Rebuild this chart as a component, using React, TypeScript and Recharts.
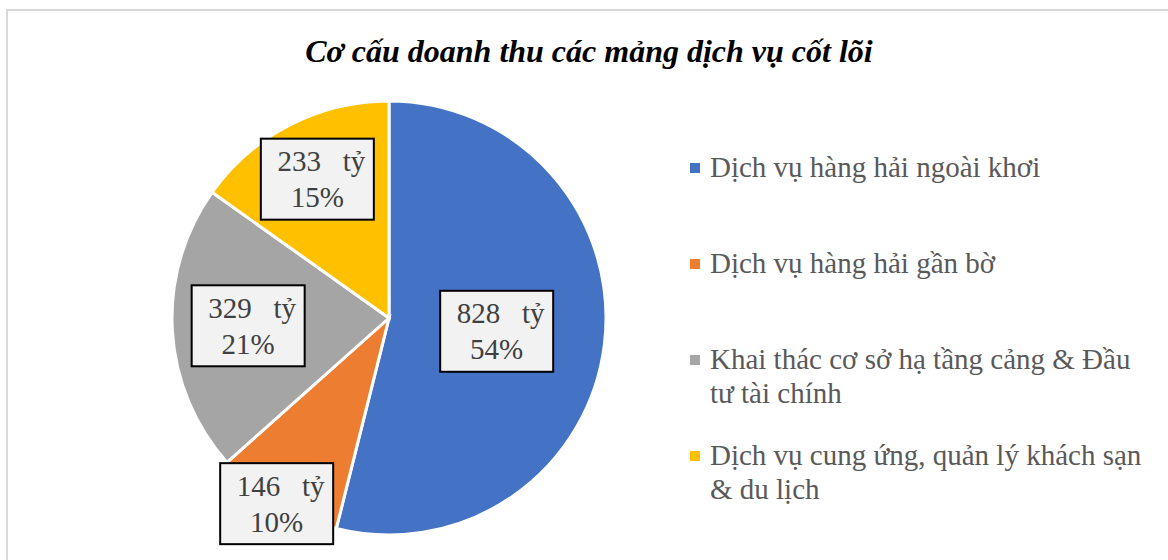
import { PieChart, Pie, Cell, Legend } from 'recharts';

const CATEGORIES = [
    'Dịch vụ hàng hải ngoài khơi',
    'Dịch vụ hàng hải gần bờ',
    'Khai thác cơ sở hạ tầng cảng & Đầu tư tài chính',
    'Dịch vụ cung ứng, quản lý khách sạn & du lịch',
];
const LEGEND_LINES = [
    ['Dịch vụ hàng hải ngoài khơi'],
    ['Dịch vụ hàng hải gần bờ'],
    ['Khai thác cơ sở hạ tầng cảng & Đầu', 'tư tài chính'],
    ['Dịch vụ cung ứng, quản lý khách sạn', '& du lịch'],
];
const VALUES = [828, 146, 329, 233];
const UNIT = 'tỷ';

const COLORS = ['#4472C4', '#ED7D31', '#A5A5A5', '#FFC000'];
// how far out each label box sits, as a share of the radius
const LABEL_RADIUS = [0.5, 1.0, 0.65, 0.72];

const DATA = CATEGORIES.map((name, i) => ({ name, value: VALUES[i] }));

const SERIF = '"Liberation Serif", "Times New Roman", serif';
const RADIAN = Math.PI / 180;

const renderLabel = (props: any) => {
    const { cx, cy, midAngle, outerRadius, index, value, percent } = props;
    const r = outerRadius * LABEL_RADIUS[index];
    const x = cx + r * Math.cos(-midAngle * RADIAN);
    const y = cy + r * Math.sin(-midAngle * RADIAN);
    const w = 113;
    const h = 81;
    return (
        <g key={`lbl-${index}`}>
            <rect x={x - w / 2} y={y - h / 2} width={w} height={h} fill="#f2f2f2" stroke="#000" strokeWidth={2} />
            <text x={x + 4} y={y - 8} textAnchor="middle" fontFamily={SERIF} fontSize={29} fill="#404040" style={{ whiteSpace: 'pre' }}>
                {`${value}   ${UNIT}`}
            </text>
            <text x={x} y={y + 28} textAnchor="middle" fontFamily={SERIF} fontSize={29} fill="#404040">
                {`${Math.round(percent * 100)}%`}
            </text>
        </g>
    );
};

const renderLegend = () => (
    <div style={{ fontFamily: SERIF, fontSize: 29, color: '#595959' }}>
        {LEGEND_LINES.map((lines, i) => (
            <div key={i} style={{ position: 'relative', height: 96, paddingLeft: 20, lineHeight: '34px' }}>
                <span style={{ position: 'absolute', left: 0, top: 13, width: 10, height: 10, background: COLORS[i] }} />
                {lines.map((t, j) => (
                    <div key={j} style={{ whiteSpace: 'nowrap' }}>{t}</div>
                ))}
            </div>
        ))}
    </div>
);

export default function App() {
    return (
        <div style={{ position: 'absolute', left: 0, top: 0, width: 1168, height: 560, overflow: 'hidden', background: '#fff' }}>
            <div style={{ position: 'absolute', left: 6, top: 9, width: 1200, height: 600, border: '2px solid #d9d9d9' }} />
            <div
                style={{
                    position: 'absolute',
                    left: 0,
                    top: 33,
                    width: 1178,
                    textAlign: 'center',
                    fontFamily: SERIF,
                    fontSize: 32,
                    fontWeight: 'bold',
                    fontStyle: 'italic',
                    color: '#000',
                }}
            >
                Cơ cấu doanh thu các mảng dịch vụ cốt lõi
            </div>
            <div style={{ position: 'absolute', left: 0, top: 0 }}>
                <PieChart width={1168} height={560} margin={{ top: 0, right: 0, bottom: 0, left: 0 }}>
                    <Pie
                        data={DATA}
                        dataKey="value"
                        nameKey="name"
                        cx={389}
                        cy={318}
                        outerRadius={217}
                        startAngle={90}
                        endAngle={-270}
                        stroke="#fff"
                        strokeWidth={3}
                        label={renderLabel}
                        labelLine={false}
                        isAnimationActive={false}
                    >
                        {DATA.map((_, i) => (
                            <Cell key={`cell-${i}`} fill={COLORS[i]} />
                        ))}
                    </Pie>
                    <Legend
                        content={renderLegend}
                        layout="vertical"
                        wrapperStyle={{ position: 'absolute', left: 690, top: 150, width: 475 }}
                    />
                </PieChart>
            </div>
        </div>
    );
}
